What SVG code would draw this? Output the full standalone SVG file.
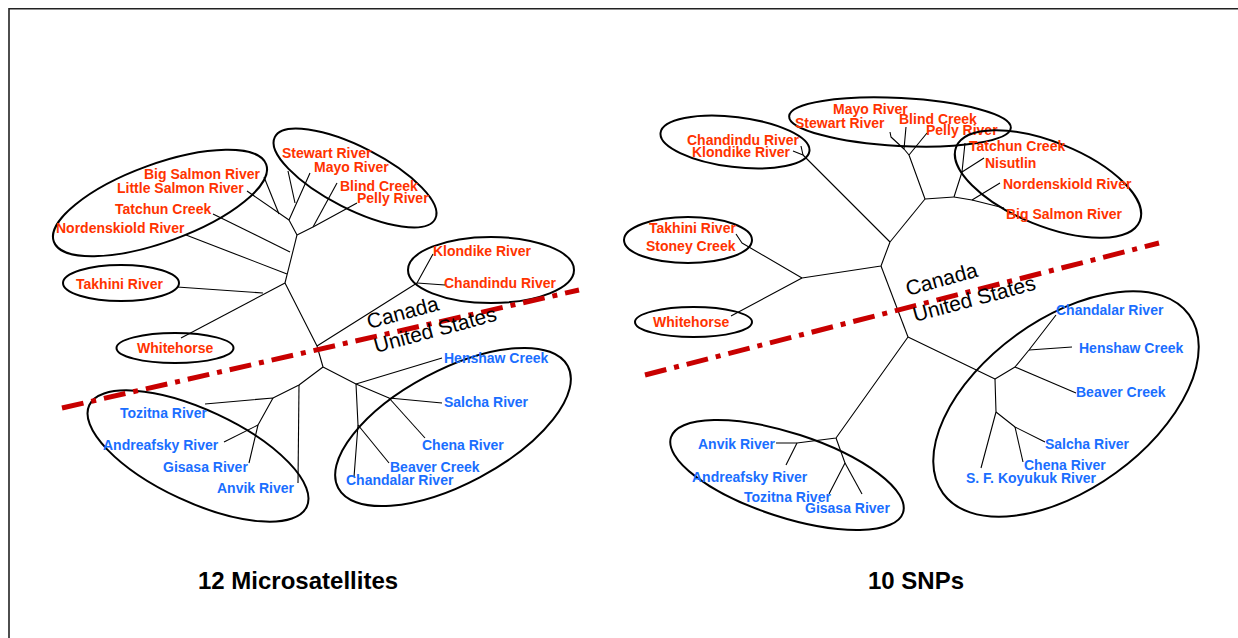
<svg xmlns="http://www.w3.org/2000/svg" width="1238" height="638" viewBox="0 0 1238 638">
<style>
.bg{fill:#fff}
.frame{fill:none;stroke:#222;stroke-width:1.6}
.ell{fill:none;stroke:#000;stroke-width:2}
.br{fill:none;stroke:#000;stroke-width:1.1;stroke-linejoin:round}
.ca{font-family:"Liberation Sans",Arial,sans-serif;font-weight:bold;font-size:14px;fill:#FF3300}
.us{font-family:"Liberation Sans",Arial,sans-serif;font-weight:bold;font-size:14px;fill:#1A6EFF}
.border{fill:none;stroke:#C80000;stroke-width:5;stroke-dasharray:22 8 5 8}
.country{font-family:"Liberation Sans",Arial,sans-serif;font-size:21px;fill:#000}
.title{font-family:"Liberation Sans",Arial,sans-serif;font-weight:bold;font-size:24px;fill:#000}
</style>
<rect class="bg" x="0" y="0" width="1238" height="638"/>
<path class="frame" d="M9,638 V8.7 H1238"/>

<!-- ===== LEFT TREE: 12 Microsatellites ===== -->
<g id="left-connectors">
  <!-- upper Canada branches -->
  <polyline class="br" points="264,177 279,214"/>
  <polyline class="br" points="247,191 289,220"/>
  <polyline class="br" points="288,171 295,203"/>
  <polyline class="br" points="310,173 289,220 297,235"/>
  <polyline class="br" points="337,183 313,227"/>
  <polyline class="br" points="357,203 313,227 297,235"/>
  <polyline class="br" points="297,235 285,283"/>
  <polyline class="br" points="213,214 290,252"/>
  <polyline class="br" points="186,235 287,274"/>
  <polyline class="br" points="177,287 263,293"/>
  <polyline class="br" points="181,338 285,283"/>
  <polyline class="br" points="285,283 317,346 323,367"/>
  <polyline class="br" points="317,346 417,283 433,254"/>
  <polyline class="br" points="417,283 445,285"/>
  <!-- Alaska left -->
  <polyline class="br" points="323,367 299,385 273,398"/>
  <polyline class="br" points="299,385 298,483"/>
  <polyline class="br" points="205,404 273,398 258,425 249,463"/>
  <polyline class="br" points="224,442 258,425"/>
  <!-- Alaska right -->
  <polyline class="br" points="323,367 356,384"/>
  <polyline class="br" points="356,384 442,358"/>
  <polyline class="br" points="356,384 389,398 442,403"/>
  <polyline class="br" points="389,398 425,438"/>
  <polyline class="br" points="356,384 358,425 354,477"/>
  <polyline class="br" points="358,425 389,463"/>
</g>

<g id="L-yukon-south">
  <ellipse class="ell" cx="160" cy="203" rx="113" ry="39" transform="rotate(-20 160 203)"/>
  <text class="ca" x="144" y="179">Big Salmon River</text>
  <text class="ca" x="117" y="193">Little Salmon River</text>
  <text class="ca" x="115" y="214">Tatchun Creek</text>
  <text class="ca" x="56" y="233">Nordenskiold River</text>
</g>
<g id="L-stewart">
  <ellipse class="ell" cx="355" cy="178" rx="90" ry="31" transform="rotate(27 355 178)"/>
  <text class="ca" x="282" y="158">Stewart River</text>
  <text class="ca" x="314" y="172">Mayo River</text>
  <text class="ca" x="340" y="191">Blind Creek</text>
  <text class="ca" x="357" y="203">Pelly River</text>
</g>
<g id="L-takhini">
  <ellipse class="ell" cx="121" cy="283" rx="58" ry="18"/>
  <text class="ca" x="76" y="289">Takhini River</text>
</g>
<g id="L-whitehorse">
  <ellipse class="ell" cx="175" cy="348" rx="58.5" ry="15"/>
  <text class="ca" x="137" y="353">Whitehorse</text>
</g>
<g id="L-klondike">
  <ellipse class="ell" cx="491" cy="270" rx="83" ry="33"/>
  <text class="ca" x="433" y="256">Klondike River</text>
  <text class="ca" x="444" y="288">Chandindu River</text>
</g>
<g id="L-lower-yukon">
  <ellipse class="ell" cx="198" cy="456" rx="120" ry="46" transform="rotate(25 198 456)"/>
  <text class="us" x="120" y="418">Tozitna River</text>
  <text class="us" x="103" y="450">Andreafsky River</text>
  <text class="us" x="163" y="472">Gisasa River</text>
  <text class="us" x="217" y="493">Anvik River</text>
</g>
<g id="L-tanana">
  <ellipse class="ell" cx="453" cy="427" rx="130" ry="57" transform="rotate(-28 453 427)"/>
  <text class="us" x="444" y="363">Henshaw Creek</text>
  <text class="us" x="444" y="407">Salcha River</text>
  <text class="us" x="422" y="450">Chena River</text>
  <text class="us" x="390" y="472">Beaver Creek</text>
  <text class="us" x="346" y="485">Chandalar River</text>
</g>
<g id="L-boundary">
  <line class="border" x1="62" y1="408" x2="579" y2="290"/>
  <text class="country" transform="translate(369,329) rotate(-15)">Canada</text>
  <text class="country" transform="translate(376,353) rotate(-15)">United States</text>
</g>
<text class="title" x="198" y="589">12 Microsatellites</text>

<!-- ===== RIGHT TREE: 10 SNPs ===== -->
<g id="right-connectors">
  <polyline class="br" points="801,146 803,155"/>
  <polyline class="br" points="793,151 803,155 890,242"/>
  <polyline class="br" points="890,132 891,137 904,149"/>
  <polyline class="br" points="906,127 904,149 909,155"/>
  <polyline class="br" points="927,133 909,155 925,199"/>
  <polyline class="br" points="925,199 890,242"/>
  <polyline class="br" points="925,199 954,197"/>
  <polyline class="br" points="954,197 962,172 965,143"/>
  <polyline class="br" points="962,172 984,158"/>
  <polyline class="br" points="954,197 972,200 1000,183"/>
  <polyline class="br" points="972,200 1004,208"/>
  <polyline class="br" points="736,234 742,243 802,278"/>
  <polyline class="br" points="731,316 802,278 881,266 890,242"/>
  <polyline class="br" points="881,266 908,337"/>
  <polyline class="br" points="908,337 995,379 1015,367 1029,350 1056,315"/>
  <polyline class="br" points="1029,350 1072,347"/>
  <polyline class="br" points="1015,367 1076,393"/>
  <polyline class="br" points="995,379 996,412 981,468"/>
  <polyline class="br" points="996,412 1015,427 1045,442"/>
  <polyline class="br" points="1015,427 1023,462"/>
  <polyline class="br" points="908,337 836,438 797,443 776,443"/>
  <polyline class="br" points="797,443 786,465"/>
  <polyline class="br" points="836,438 845,463 829,494"/>
  <polyline class="br" points="845,463 862,494"/>
</g>

<g id="R-klondike">
  <ellipse class="ell" cx="735" cy="142" rx="75" ry="25" transform="rotate(7 735 142)"/>
  <text class="ca" x="687" y="145">Chandindu River</text>
  <text class="ca" x="692" y="157">Klondike River</text>
</g>
<g id="R-stewart">
  <ellipse class="ell" cx="900" cy="122" rx="111" ry="24" transform="rotate(3 900 122)"/>
  <text class="ca" x="833" y="114">Mayo River</text>
  <text class="ca" x="795" y="128">Stewart River</text>
  <text class="ca" x="899" y="124">Blind Creek</text>
  <text class="ca" x="926" y="135">Pelly River</text>
</g>
<g id="R-yukon-south">
  <ellipse class="ell" cx="1048" cy="184" rx="99" ry="42" transform="rotate(22 1048 184)"/>
  <text class="ca" x="969" y="151">Tatchun Creek</text>
  <text class="ca" x="985" y="168">Nisutlin</text>
  <text class="ca" x="1003" y="189">Nordenskiold River</text>
  <text class="ca" x="1006" y="219">Big Salmon River</text>
</g>
<g id="R-takhini">
  <ellipse class="ell" cx="688" cy="240" rx="64" ry="23"/>
  <text class="ca" x="649" y="233">Takhini River</text>
  <text class="ca" x="646" y="251">Stoney Creek</text>
</g>
<g id="R-whitehorse">
  <ellipse class="ell" cx="693.5" cy="322" rx="58.5" ry="15"/>
  <text class="ca" x="653" y="327">Whitehorse</text>
</g>
<g id="R-lower-yukon">
  <ellipse class="ell" cx="787" cy="475" rx="122" ry="42" transform="rotate(18 787 475)"/>
  <text class="us" x="698" y="449">Anvik River</text>
  <text class="us" x="692" y="482">Andreafsky River</text>
  <text class="us" x="744" y="502">Tozitna River</text>
  <text class="us" x="805" y="513">Gisasa River</text>
</g>
<g id="R-tanana">
  <ellipse class="ell" cx="1066" cy="404" rx="152" ry="85" transform="rotate(-36 1066 404)"/>
  <text class="us" x="1056" y="315">Chandalar River</text>
  <text class="us" x="1079" y="353">Henshaw Creek</text>
  <text class="us" x="1076" y="397">Beaver Creek</text>
  <text class="us" x="1045" y="449">Salcha River</text>
  <text class="us" x="1024" y="470">Chena River</text>
  <text class="us" x="966" y="483">S. F. Koyukuk River</text>
</g>
<g id="R-boundary">
  <line class="border" x1="645" y1="375" x2="1159" y2="243"/>
  <text class="country" transform="translate(908,296) rotate(-15.5)">Canada</text>
  <text class="country" transform="translate(915,322) rotate(-15)">United States</text>
</g>
<text class="title" x="868" y="589">10 SNPs</text>
</svg>
